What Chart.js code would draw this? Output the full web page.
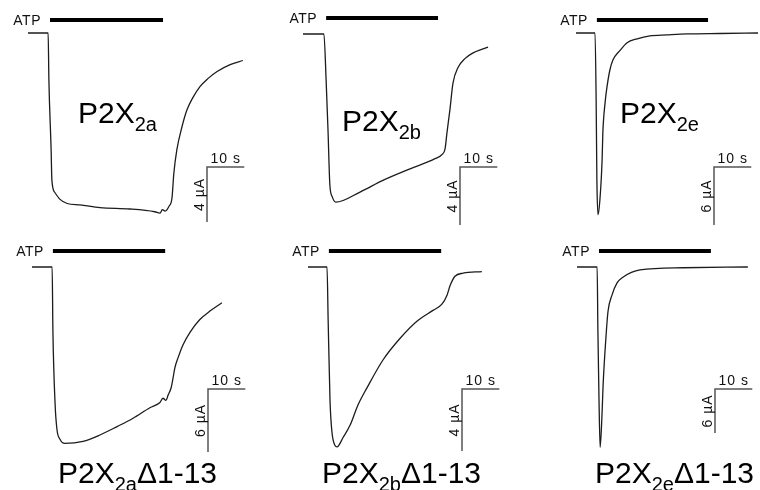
<!DOCTYPE html>
<html>
<head>
<meta charset="utf-8">
<script src="https://cdn.jsdelivr.net/npm/chart.js@4.4.1/dist/chart.umd.min.js"></script>
<style>
  body { margin: 0; background: #fff; }
  #wrap { position: relative; width: 760px; height: 490px; overflow: hidden; font-family: "Liberation Sans", Arial, sans-serif; }
  #wrap canvas { position: absolute; }
  .name { position: absolute; font-size: 30px; line-height: 30px; color: #000; white-space: nowrap; }
  .name span { font-size: 20px; position: relative; top: 8px; }
</style>
</head>
<body>
<div id="wrap">
  <canvas id="c1" width="253" height="235" style="left:0;top:0"></canvas>
  <canvas id="c2" width="253" height="235" style="left:253px;top:0"></canvas>
  <canvas id="c3" width="254" height="235" style="left:506px;top:0"></canvas>
  <canvas id="c4" width="253" height="255" style="left:0;top:235px"></canvas>
  <canvas id="c5" width="253" height="255" style="left:253px;top:235px"></canvas>
  <canvas id="c6" width="254" height="255" style="left:506px;top:235px"></canvas>

  <div class="name" style="left:78px;top:98px">P2X<span>2a</span></div>
  <div class="name" style="left:342px;top:106px">P2X<span>2b</span></div>
  <div class="name" style="left:620px;top:98px">P2X<span>2e</span></div>
  <div class="name" style="left:58px;top:458px">P2X<span>2a</span>Δ1-13</div>
  <div class="name" style="left:322px;top:458px">P2X<span>2b</span>Δ1-13</div>
  <div class="name" style="left:595px;top:458px">P2X<span>2e</span>Δ1-13</div>
</div>
<script>
// currents (µA) against time from sweep start (s)
var t1 = [0, 5.4, 5.6, 6.2, 6.4, 7.2, 8.6, 10.5, 13.9, 19.3, 27.3, 34.0, 35.4, 36.0, 36.8, 37.8, 38.6, 39.1, 39.9, 41.3, 42.6, 44.2, 46.1, 48.3, 50.7, 54.2, 57.6];
var i1 = [0, 0, -3.4, -8.5, -10.7, -11.6, -12.1, -12.4, -12.5, -12.7, -12.8, -13.0, -13.1, -12.85, -12.95, -12.6, -12.0, -10.2, -8.5, -6.8, -5.6, -4.7, -3.9, -3.3, -2.8, -2.3, -2.0];

var t2 = [0, 5.6, 6.2, 6.7, 7.2, 7.8, 8.8, 15.3, 21.4, 28.7, 35.4, 37.3, 38.1, 38.6, 39.4, 40.2, 41.6, 43.4, 45.6, 49.6];
var i2 = [0, 0, -3.2, -6.6, -10.4, -11.2, -11.6, -10.9, -10.1, -9.3, -8.6, -8.3, -7.9, -6.8, -5.2, -3.4, -2.3, -1.7, -1.3, -0.9];

var t3 = [0, 5.1, 5.4, 5.6, 5.9, 6.4, 7.0, 7.2, 7.8, 8.3, 9.1, 9.9, 11.8, 13.7, 16.4, 19.8, 24.4, 29.8, 38.6, 48.8];
var i3 = [0, 0, -6.9, -15.2, -18.8, -17.3, -13.1, -10.3, -7.2, -5.6, -3.8, -2.8, -1.8, -1.0, -0.6, -0.3, -0.2, -0.1, -0.05, 0];

var t4 = [0, 5.4, 5.6, 6.2, 6.7, 7.5, 8.8, 13.7, 18.2, 22.8, 27.1, 31.6, 34.3, 35.1, 35.9, 36.5, 37.3, 37.8, 38.3, 39.1, 40.5, 42.4, 45.0, 47.7, 50.9];
var i4 = [0, 0, -6.0, -13.1, -15.5, -16.4, -16.8, -16.6, -16.0, -15.2, -14.4, -13.4, -12.9, -12.5, -12.7, -12.2, -11.5, -10.6, -9.6, -8.7, -7.4, -6.2, -5.0, -4.2, -3.4];

var t5 = [0, 5.1, 5.4, 5.9, 6.4, 7.2, 7.8, 9.4, 11.3, 13.4, 15.8, 20.1, 24.7, 29.2, 33.5, 35.9, 37.3, 38.1, 39.4, 41.6, 46.6];
var i5 = [0, 0, -3.4, -8.6, -10.6, -11.5, -11.6, -11.0, -10.2, -8.9, -7.8, -6.0, -4.6, -3.5, -2.8, -2.4, -1.8, -1.2, -0.6, -0.4, -0.3];

var t6 = [0, 5.4, 5.6, 5.9, 6.2, 6.7, 7.0, 7.8, 8.3, 9.4, 10.7, 12.3, 16.9, 28.4, 45.8];
var i6 = [0, 0, -8.6, -18.1, -24.6, -20.2, -16.1, -9.3, -6.1, -3.8, -2.2, -1.4, -0.4, -0.1, 0];

var times = [t1, t2, t3, t4, t5, t6];
var currents = [i1, i2, i3, i4, i5, i6];

// ATP application window (s)
var atpOn = [5.9, 6.2, 5.6, 5.6, 5.6, 5.9];
var atpOff = [36.2, 36.2, 35.4, 35.7, 35.7, 35.9];

// calibration bars
var barSec = 10;
var barUA = [4, 4, 6, 6, 4, 6];

// canvas box, sweep start / baseline in page px, px per s and per µA, ATP bar height, scale bar corner
var layout = [
  { left: 0,   top: 0,   w: 253, h: 235, x0: 28,  y0: 33,  pxs: 3.73, pxu: 13.75, atpUp: 13, sbx: 207, sby: 167 },
  { left: 253, top: 0,   w: 253, h: 235, x0: 303, y0: 34,  pxs: 3.73, pxu: 14.5,  atpUp: 16, sbx: 460, sby: 167 },
  { left: 506, top: 0,   w: 254, h: 235, x0: 576, y0: 33,  pxs: 3.73, pxu: 9.67,  atpUp: 13, sbx: 714, sby: 167 },
  { left: 0,   top: 235, w: 253, h: 255, x0: 32,  y0: 267, pxs: 3.73, pxu: 10.5,  atpUp: 16, sbx: 208, sby: 389 },
  { left: 253, top: 235, w: 253, h: 255, x0: 308, y0: 267, pxs: 3.73, pxu: 15.5,  atpUp: 16, sbx: 462, sby: 389 },
  { left: 506, top: 235, w: 254, h: 255, x0: 577, y0: 267, pxs: 3.73, pxu: 7.33,  atpUp: 16, sbx: 715, sby: 389 }
];

var smallFont = '14px "Liberation Sans", Arial, sans-serif';

function makeMarks(k) {
  var L = layout[k];
  return {
    id: 'marks' + k,
    afterDatasetsDraw: function (chart) {
      var ctx = chart.ctx, xs = chart.scales.x, ys = chart.scales.y;
      var base = ys.getPixelForValue(0);

      // ATP bar
      var ax0 = xs.getPixelForValue(atpOn[k]), ax1 = xs.getPixelForValue(atpOff[k]);
      var ay = base - L.atpUp;
      ctx.save();
      ctx.strokeStyle = '#000';
      ctx.lineWidth = 4;
      ctx.lineCap = 'butt';
      ctx.beginPath();
      ctx.moveTo(ax0, ay);
      ctx.lineTo(ax1, ay);
      ctx.stroke();
      ctx.fillStyle = '#111';
      ctx.font = smallFont;
      ctx.letterSpacing = '0.5px';
      ctx.textAlign = 'right';
      ctx.textBaseline = 'middle';
      ctx.fillText('ATP', ax0 - 9, ay + 1);

      // scale bars
      var cx = L.sbx - L.left, cy = L.sby - L.top;
      var dx = xs.getPixelForValue(barSec) - xs.getPixelForValue(0);
      var dy = ys.getPixelForValue(-barUA[k]) - base;
      ctx.strokeStyle = '#555';
      ctx.lineWidth = 1.5;
      ctx.beginPath();
      ctx.moveTo(cx + dx, cy);
      ctx.lineTo(cx, cy);
      ctx.lineTo(cx, cy + dy);
      ctx.stroke();

      ctx.letterSpacing = '1px';
      ctx.textAlign = 'center';
      ctx.textBaseline = 'alphabetic';
      ctx.fillText(barSec + ' s', cx + dx / 2, cy - 4);

      ctx.translate(cx - 3, cy + dy / 2);
      ctx.rotate(-Math.PI / 2);
      ctx.fillText(barUA[k] + ' µA', 0, 0);
      ctx.restore();
    }
  };
}

for (var k = 0; k < 6; k++) {
  var L = layout[k];
  var xmin = -(L.x0 - L.left) / L.pxs;
  var ymax = (L.y0 - L.top) / L.pxu;
  var pts = times[k].map(function (v, j) { return { x: v, y: currents[this][j] }; }, k);

  new Chart(document.getElementById('c' + (k + 1)), {
    type: 'line',
    data: {
      datasets: [{
        data: pts,
        borderColor: '#1c1c1c',
        borderWidth: 1.3,
        pointRadius: 0,
        fill: false,
        cubicInterpolationMode: 'monotone'
      }]
    },
    options: {
      responsive: false,
      animation: false,
      events: [],
      layout: { padding: 0 },
      plugins: { legend: { display: false }, tooltip: { enabled: false } },
      scales: {
        x: { type: 'linear', display: false, min: xmin, max: xmin + L.w / L.pxs },
        y: { type: 'linear', display: false, min: ymax - L.h / L.pxu, max: ymax }
      }
    },
    plugins: [makeMarks(k)]
  });
}
</script>
</body>
</html>
